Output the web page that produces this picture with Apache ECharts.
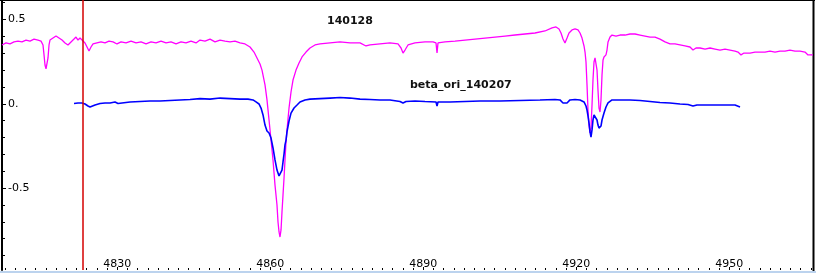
<!DOCTYPE html>
<html>
<head>
<meta charset="utf-8">
<style>
  html, body { margin: 0; padding: 0; background: #ffffff; }
  #chart { width: 816px; height: 273px; }
</style>
<script src="https://cdn.jsdelivr.net/npm/echarts@6/dist/echarts.min.js"></script>
</head>
<body>
<div id="chart"></div>
<script>
// ---- Data ----
var seriesNames = ['140128', 'beta_ori_140207'];

var xTickLabels = [4830, 4860, 4890, 4920, 4950];
var yTickLabels = [0.5, 0, -0.5];
var yMinorTicks = [0.6, 0.4, 0.3, 0.2, 0.1, -0.1, -0.2, -0.3, -0.4, -0.6, -0.7, -0.8, -0.9];

var markerWave = 4823.2;

var wave140128 = [
  4807.39, 4808.18, 4808.96, 4809.75, 4810.53, 4811.31, 4812.10, 4812.88, 4813.67, 4814.45,
  4815.04, 4815.43, 4815.63, 4815.82, 4816.02, 4816.22, 4816.41, 4816.61, 4816.80, 4817.39,
  4817.98, 4818.57, 4819.16, 4819.75, 4820.33, 4820.92, 4821.51, 4821.90, 4822.29, 4822.69,
  4823.08, 4823.67, 4824.06, 4824.45, 4824.84, 4825.24, 4826.02, 4826.80, 4827.59, 4828.37,
  4829.16, 4829.94, 4830.73, 4831.71, 4832.69, 4833.67, 4834.65, 4835.63, 4836.61, 4837.59,
  4838.57, 4839.55, 4840.53, 4841.51, 4842.49, 4843.47, 4844.45, 4845.43, 4846.22, 4847.20,
  4848.18, 4849.16, 4850.14, 4851.12, 4852.10, 4853.08, 4854.06, 4855.04, 4856.02, 4856.80,
  4857.39, 4857.98, 4858.37, 4858.96, 4859.35, 4859.75, 4860.14, 4860.53, 4860.92, 4861.31,
  4861.51, 4861.71, 4861.90, 4862.10, 4862.29, 4862.49, 4862.69, 4862.88, 4863.08, 4863.27,
  4863.67, 4864.06, 4864.45, 4865.04, 4865.63, 4866.22, 4867.00, 4867.78, 4868.76, 4869.75,
  4871.71, 4873.67, 4875.63, 4877.59, 4878.76, 4879.55, 4881.51, 4883.47, 4885.04, 4885.63,
  4886.02, 4886.41, 4887.00, 4888.37, 4890.33, 4891.90, 4892.49, 4892.69, 4892.88, 4894.25,
  4896.22, 4898.18, 4900.14, 4902.10, 4904.06, 4906.02, 4907.98, 4909.94, 4911.90, 4913.86,
  4915.24, 4916.02, 4916.61, 4917.00, 4917.39, 4917.78, 4918.18, 4918.57, 4919.16, 4919.75,
  4920.33, 4920.73, 4921.12, 4921.51, 4921.71, 4921.90, 4922.10, 4922.29, 4922.49, 4922.69,
  4922.88, 4923.08, 4923.27, 4923.47, 4923.67, 4923.86, 4924.06, 4924.25, 4924.45, 4924.65,
  4924.84, 4925.04, 4925.24, 4925.43, 4925.82, 4926.02, 4926.22, 4926.61, 4927.00, 4927.78,
  4928.57, 4929.55, 4930.53, 4931.51, 4932.49, 4933.47, 4934.45, 4935.43, 4936.41, 4937.39,
  4938.37, 4939.35, 4940.33, 4941.31, 4942.29, 4942.88, 4943.47, 4944.25, 4945.24, 4946.22,
  4947.20, 4948.18, 4949.16, 4950.14, 4951.12, 4951.71, 4952.29, 4952.88, 4954.06, 4955.04,
  4956.02, 4957.00, 4957.98, 4958.96, 4959.94, 4960.92, 4961.90, 4962.88, 4963.86, 4964.84,
  4965.43, 4966.41
];
var flux140128 = [
  0.349, 0.361, 0.355, 0.367, 0.372, 0.367, 0.378, 0.372, 0.384, 0.378,
  0.372, 0.349, 0.290, 0.230, 0.207, 0.218, 0.272, 0.349, 0.378, 0.390,
  0.402, 0.390, 0.378, 0.361, 0.349, 0.367, 0.384, 0.396, 0.378, 0.390,
  0.384, 0.361, 0.337, 0.313, 0.337, 0.355, 0.361, 0.367, 0.361, 0.372,
  0.367, 0.355, 0.367, 0.361, 0.372, 0.361, 0.367, 0.355, 0.367, 0.361,
  0.372, 0.361, 0.367, 0.355, 0.367, 0.361, 0.372, 0.361, 0.378, 0.372,
  0.384, 0.367, 0.378, 0.372, 0.367, 0.372, 0.361, 0.355, 0.337, 0.307,
  0.272, 0.236, 0.200, 0.112, 0.023, -0.096, -0.215, -0.333, -0.482, -0.600,
  -0.701, -0.760, -0.790, -0.748, -0.642, -0.541, -0.440, -0.333, -0.227, -0.155,
  -0.025, 0.070, 0.141, 0.200, 0.242, 0.278, 0.307, 0.331, 0.349, 0.355,
  0.361, 0.367, 0.361, 0.361, 0.343, 0.349, 0.355, 0.361, 0.355, 0.331,
  0.301, 0.319, 0.349, 0.361, 0.367, 0.367, 0.361, 0.301, 0.361, 0.367,
  0.372, 0.378, 0.384, 0.390, 0.396, 0.402, 0.408, 0.414, 0.420, 0.432,
  0.450, 0.456, 0.444, 0.420, 0.384, 0.361, 0.390, 0.420, 0.438, 0.444,
  0.438, 0.420, 0.390, 0.343, 0.307, 0.248, 0.112, -0.037, -0.126, -0.173,
  -0.144, -0.007, 0.141, 0.248, 0.272, 0.272, 0.200, 0.082, -0.025, -0.049,
  0.023, 0.171, 0.260, 0.278, 0.290, 0.319, 0.367, 0.396, 0.408, 0.402,
  0.408, 0.408, 0.414, 0.414, 0.408, 0.402, 0.396, 0.396, 0.384, 0.367,
  0.355, 0.355, 0.349, 0.343, 0.337, 0.319, 0.331, 0.331, 0.325, 0.331,
  0.325, 0.319, 0.325, 0.319, 0.313, 0.307, 0.290, 0.301, 0.301, 0.307,
  0.307, 0.307, 0.313, 0.307, 0.313, 0.313, 0.319, 0.313, 0.313, 0.307,
  0.290, 0.290
];

var waveBetaOri = [
  4821.51, 4822.29, 4823.08, 4823.67, 4824.25, 4824.65, 4825.04, 4825.63, 4826.61, 4827.59,
  4828.57, 4829.55, 4830.14, 4830.92, 4832.49, 4834.45, 4836.41, 4838.37, 4840.33, 4842.29,
  4844.25, 4846.22, 4848.18, 4850.14, 4852.10, 4854.06, 4855.63, 4856.61, 4857.20, 4857.78,
  4858.18, 4858.57, 4858.96, 4859.35, 4859.75, 4860.14, 4860.53, 4860.92, 4861.31, 4861.71,
  4861.90, 4862.10, 4862.29, 4862.49, 4862.69, 4862.88, 4863.08, 4863.27, 4863.67, 4864.06,
  4864.65, 4865.24, 4865.82, 4866.80, 4867.78, 4869.75, 4871.71, 4873.67, 4875.63, 4877.59,
  4879.55, 4881.51, 4883.47, 4885.43, 4886.02, 4886.61, 4888.37, 4890.33, 4892.49, 4892.69,
  4892.88, 4895.24, 4898.18, 4901.12, 4905.04, 4908.96, 4912.88, 4915.82, 4916.80, 4917.39,
  4917.78, 4918.18, 4918.76, 4919.75, 4920.73, 4921.51, 4921.90, 4922.10, 4922.29, 4922.49,
  4922.69, 4922.88, 4923.08, 4923.27, 4923.47, 4923.67, 4923.86, 4924.06, 4924.25, 4924.45,
  4924.65, 4924.84, 4925.04, 4925.43, 4925.82, 4926.22, 4926.61, 4927.00, 4928.57, 4930.53,
  4932.49, 4934.45, 4936.41, 4938.37, 4940.33, 4941.90, 4942.88, 4943.67, 4945.24, 4947.20,
  4949.16, 4951.12, 4952.10
];
var fluxBetaOri = [
  0.002, 0.005, 0.005, -0.001, -0.013, -0.019, -0.013, -0.007, 0.002, 0.005,
  0.005, 0.011, 0.002, 0.005, 0.011, 0.014, 0.017, 0.017, 0.020, 0.023,
  0.026, 0.031, 0.028, 0.034, 0.031, 0.028, 0.028, 0.023, 0.011, -0.001,
  -0.025, -0.066, -0.126, -0.161, -0.173, -0.203, -0.262, -0.333, -0.393, -0.428,
  -0.434, -0.422, -0.393, -0.345, -0.298, -0.244, -0.215, -0.167, -0.102, -0.055,
  -0.025, -0.007, 0.011, 0.023, 0.028, 0.031, 0.034, 0.037, 0.034, 0.028,
  0.026, 0.023, 0.023, 0.014, 0.005, 0.014, 0.017, 0.014, 0.011, -0.013,
  0.011, 0.011, 0.014, 0.017, 0.017, 0.020, 0.023, 0.026, 0.023, 0.005,
  -0.004, 0.005, 0.023, 0.026, 0.023, 0.011, -0.013, -0.037, -0.072, -0.114,
  -0.167, -0.197, -0.155, -0.096, -0.066, -0.055, -0.066, -0.096, -0.126, -0.144,
  -0.155, -0.132, -0.096, -0.055, -0.019, 0.005, 0.014, 0.023, 0.023, 0.023,
  0.020, 0.014, 0.008, 0.005, -0.001, -0.004, -0.013, -0.007, -0.007, -0.007,
  -0.007, -0.007, -0.019
];

// ---- Build chart ----
function zip(a, b) {
  var out = [];
  for (var i = 0; i < a.length; i++) out.push([a[i], b[i]]);
  return out;
}

var X_MIN = 4807.39, X_MAX = 4966.41;
var Y_MIN = -0.9857, Y_MAX = 0.6157;

var xMinor = [];
for (var t = 4808; t <= 4966; t += 2) xMinor.push(t);

var chart = echarts.init(document.getElementById('chart'), null, { renderer: 'canvas' });

var labelFont = { fontFamily: 'DejaVu Sans', fontSize: 11, color: '#000000' };

chart.setOption({
  animation: false,
  backgroundColor: '#ffffff',
  grid: { left: 2, right: 3, top: 0, bottom: 3, containLabel: false },
  xAxis: [
    {
      type: 'value', min: X_MIN, max: X_MAX, position: 'bottom',
      axisLine: { show: false, onZero: false },
      splitLine: { show: false },
      axisTick: { show: true, inside: true, length: 3, customValues: xTickLabels,
                  lineStyle: { color: '#000', width: 1 } },
      axisLabel: Object.assign({ inside: true, margin: 0, customValues: xTickLabels,
                  formatter: function (v) { return String(v); } }, labelFont)
    },
    {
      type: 'value', min: X_MIN, max: X_MAX, position: 'bottom',
      axisLine: { show: false, onZero: false }, splitLine: { show: false },
      axisLabel: { show: false },
      axisTick: { show: true, inside: true, length: 2, customValues: xMinor,
                  lineStyle: { color: '#000', width: 1 } }
    }
  ],
  yAxis: [
    {
      type: 'value', min: Y_MIN, max: Y_MAX, position: 'left',
      axisLine: { show: true, onZero: false, lineStyle: { color: '#000', width: 2 } },
      splitLine: { show: false },
      axisTick: { show: true, inside: true, length: 4, customValues: yTickLabels,
                  lineStyle: { color: '#000', width: 1 } },
      axisLabel: Object.assign({ inside: true, margin: 6, customValues: yTickLabels,
                  formatter: function (v) { return v === 0 ? '0.' : String(v); } }, labelFont)
    },
    {
      type: 'value', min: Y_MIN, max: Y_MAX, position: 'left',
      axisLine: { show: false, onZero: false }, splitLine: { show: false },
      axisLabel: { show: false },
      axisTick: { show: true, inside: true, length: 3, customValues: yMinorTicks,
                  lineStyle: { color: '#000', width: 1 } }
    }
  ],
  series: [
    {
      name: seriesNames[0], type: 'line', data: zip(wave140128, flux140128),
      showSymbol: false, symbol: 'none', smooth: false, clip: true,
      lineStyle: { color: '#ff00ff', width: 1.3 },
      markLine: {
        silent: true, symbol: 'none', animation: false,
        label: { show: false },
        lineStyle: { color: '#d40000', width: 1.5, type: 'solid' },
        data: [{ xAxis: markerWave }]
      }
    },
    {
      name: seriesNames[1], type: 'line', data: zip(waveBetaOri, fluxBetaOri),
      showSymbol: false, symbol: 'none', smooth: false, clip: true,
      lineStyle: { color: '#0000ff', width: 1.6 }
    }
  ],
  graphic: [
    { type: 'rect', left: 0, top: 271, shape: { width: 816, height: 2 },
      style: { fill: '#bcd3ee' }, silent: true },
    { type: 'rect', left: 0, top: 0, shape: { width: 815, height: 1 },
      style: { fill: '#000' }, silent: true },
    { type: 'rect', left: 812.5, top: 0, shape: { width: 2, height: 271 },
      style: { fill: '#000' }, silent: true },
    { type: 'text', left: 327, top: 16,
      style: { text: seriesNames[0], font: 'bold 11px "DejaVu Sans"', fill: '#111' } },
    { type: 'text', left: 410, top: 80,
      style: { text: seriesNames[1], font: 'bold 11px "DejaVu Sans"', fill: '#111' } }
  ]
});
</script>
</body>
</html>
